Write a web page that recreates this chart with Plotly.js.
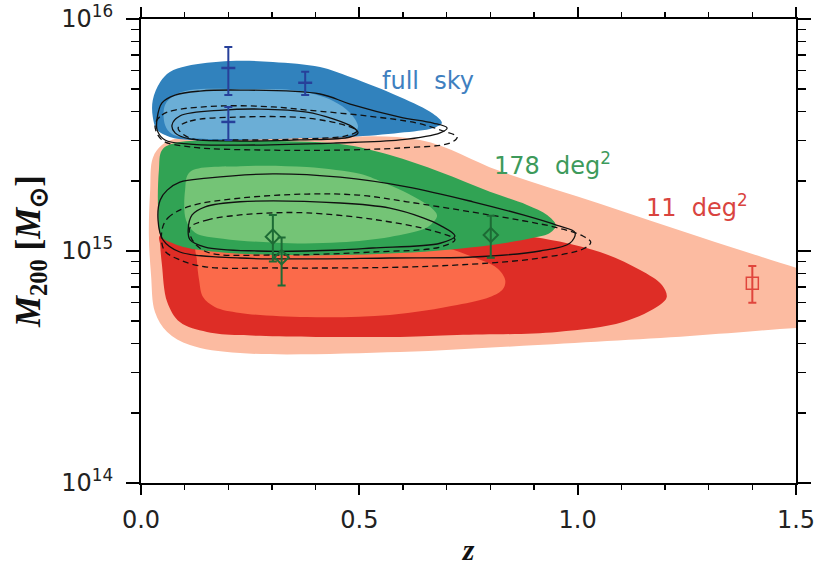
<!DOCTYPE html>
<html>
<head>
<meta charset="utf-8">
<script src="https://cdn.plot.ly/plotly-3.0.1.min.js"></script>
<style>
  html, body { margin: 0; padding: 0; background: #fff; }
  #chart { width: 829px; height: 566px; }
</style>
</head>
<body>
<div id="chart"></div>
<script>
// Masses are listed in units of 1e15 M_sun; redshift z is dimensionless.
const MASS_UNIT = 1e15;

// ---- 11 deg^2 survey: three nested confidence regions ----
const s11OuterZ = [0.078, 0.364, 0.639, 0.822, 1.051, 1.280, 1.509, 1.601, 1.601, 1.502, 1.257, 0.875, 0.593, 0.227, 0.112, 0.060, 0.032, 0.023, 0.018, 0.021, 0.027, 0.048];
const s11OuterM = [3.04, 3.07, 3.01, 2.21, 1.60, 1.15, 0.836, 0.743, 0.475, 0.466, 0.430, 0.390, 0.367, 0.363, 0.393, 0.448, 0.546, 0.788, 1.17, 1.83, 2.52, 2.86];

const s11MidZ = [0.044, 0.364, 0.708, 0.898, 1.051, 1.143, 1.193, 1.204, 1.188, 1.104, 0.953, 0.724, 0.593, 0.227, 0.151, 0.089, 0.060, 0.048, 0.044];
const s11MidM = [1.17, 1.21, 1.21, 1.15, 0.990, 0.828, 0.714, 0.633, 0.585, 0.494, 0.448, 0.434, 0.426, 0.434, 0.448, 0.494, 0.603, 0.871, 1.06];

const s11InnerZ = [0.128, 0.364, 0.685, 0.760, 0.815, 0.834, 0.829, 0.799, 0.724, 0.570, 0.380, 0.227, 0.169, 0.142, 0.133, 0.128];
const s11InnerM = [1.06, 1.06, 1.04, 0.942, 0.845, 0.750, 0.686, 0.633, 0.585, 0.530, 0.519, 0.541, 0.574, 0.633, 0.750, 0.915];

// ---- 178 deg^2 survey ----
const s178OuterZ = [0.048, 0.078, 0.250, 0.456, 0.570, 0.685, 0.799, 0.884, 0.930, 0.950, 0.937, 0.898, 0.799, 0.593, 0.302, 0.135, 0.078, 0.046, 0.039, 0.041];
const s178OuterM = [2.72, 2.92, 2.98, 2.89, 2.59, 2.19, 1.80, 1.58, 1.43, 1.29, 1.20, 1.14, 1.06, 0.980, 0.961, 1.01, 1.07, 1.16, 1.53, 2.23];

const s178InnerZ = [0.112, 0.227, 0.380, 0.501, 0.531, 0.609, 0.662, 0.678, 0.662, 0.646, 0.570, 0.456, 0.341, 0.188, 0.124, 0.103, 0.101];
const s178InnerM = [2.19, 2.32, 2.30, 2.15, 2.06, 1.78, 1.55, 1.42, 1.29, 1.24, 1.15, 1.09, 1.08, 1.13, 1.20, 1.36, 1.83];

// ---- full-sky survey ----
const skyOuterZ = [0.027, 0.044, 0.066, 0.105, 0.204, 0.302, 0.410, 0.479, 0.593, 0.669, 0.689, 0.669, 0.593, 0.479, 0.364, 0.227, 0.112, 0.066, 0.037, 0.027];
const skyOuterM = [4.48, 5.35, 5.91, 6.27, 6.59, 6.53, 6.21, 5.62, 4.61, 3.90, 3.56, 3.39, 3.23, 3.10, 3.07, 3.01, 3.01, 3.10, 3.32, 3.78];

const skyInnerZ = [0.055, 0.078, 0.112, 0.227, 0.364, 0.440, 0.479, 0.497, 0.483, 0.364, 0.227, 0.112, 0.071, 0.055];
const skyInnerM = [4.26, 4.70, 4.94, 4.99, 4.89, 4.43, 3.93, 3.42, 3.19, 3.07, 3.04, 3.07, 3.19, 3.49];

// ---- comparison contours (black): solid and dashed, two levels each ----
const skySolidOuterZ = [0.037, 0.048, 0.078, 0.135, 0.227, 0.410, 0.479, 0.593, 0.669, 0.701, 0.685, 0.593, 0.440, 0.227, 0.112, 0.055, 0.037];
const skySolidOuterM = [3.74, 4.35, 4.70, 4.89, 4.94, 4.75, 4.30, 3.78, 3.56, 3.39, 3.23, 3.01, 2.92, 2.86, 2.89, 3.01, 3.32];
const skySolidInnerZ = [0.071, 0.089, 0.188, 0.273, 0.380, 0.440, 0.485, 0.497, 0.479, 0.364, 0.227, 0.112, 0.078];
const skySolidInnerM = [3.49, 3.82, 4.05, 4.09, 3.97, 3.71, 3.42, 3.23, 3.10, 3.01, 2.98, 3.04, 3.23];
const skyDashOuterZ = [0.032, 0.048, 0.078, 0.188, 0.302, 0.380, 0.518, 0.632, 0.692, 0.724, 0.708, 0.593, 0.440, 0.302, 0.112, 0.048];
const skyDashOuterM = [3.49, 3.86, 4.05, 4.22, 4.18, 4.05, 3.82, 3.56, 3.29, 3.10, 2.92, 2.78, 2.72, 2.72, 2.81, 3.01];
const skyDashInnerZ = [0.085, 0.112, 0.227, 0.380, 0.472, 0.495, 0.467, 0.364, 0.227, 0.112];
const skyDashInnerM = [3.39, 3.63, 3.78, 3.74, 3.46, 3.29, 3.13, 3.04, 3.01, 3.07];

const s178SolidOuterZ = [0.044, 0.060, 0.089, 0.151, 0.302, 0.456, 0.609, 0.760, 0.875, 0.953, 0.994, 0.982, 0.914, 0.760, 0.570, 0.364, 0.227, 0.089, 0.050, 0.039];
const s178SolidOuterM = [1.66, 1.83, 1.98, 2.06, 2.15, 2.08, 1.89, 1.63, 1.43, 1.29, 1.20, 1.08, 1.00, 0.942, 0.933, 0.924, 0.933, 0.990, 1.12, 1.36];
const s178SolidInnerZ = [0.108, 0.117, 0.147, 0.227, 0.456, 0.570, 0.646, 0.685, 0.719, 0.685, 0.531, 0.456, 0.266, 0.147, 0.112];
const s178SolidInnerM = [1.23, 1.43, 1.55, 1.63, 1.61, 1.53, 1.39, 1.29, 1.16, 1.08, 1.03, 1.01, 1.00, 1.04, 1.12];
const s178DashOuterZ = [0.048, 0.062, 0.112, 0.227, 0.380, 0.501, 0.609, 0.760, 0.875, 0.953, 1.012, 1.030, 1.012, 0.914, 0.799, 0.609, 0.302, 0.151, 0.089, 0.053];
const s178DashOuterM = [1.23, 1.39, 1.56, 1.69, 1.76, 1.74, 1.63, 1.47, 1.35, 1.26, 1.16, 1.09, 1.02, 0.933, 0.888, 0.853, 0.845, 0.853, 0.915, 1.01];
const s178DashInnerZ = [0.112, 0.151, 0.227, 0.302, 0.380, 0.531, 0.669, 0.719, 0.685, 0.531, 0.302, 0.151, 0.117];
const s178DashInnerM = [1.26, 1.36, 1.43, 1.46, 1.46, 1.37, 1.22, 1.12, 1.04, 0.990, 0.961, 0.990, 1.12];

// ---- individual clusters with error bars ----
const skyPtsZ = [0.200, 0.200, 0.376];
const skyPtsM = [6.15, 3.60, 5.31];
const skyPtsHi = [7.57, 4.18, 5.93];
const skyPtsLo = [4.70, 3.01, 4.70];

const s178PtsZ = [0.302, 0.322, 0.801];
const s178PtsM = [1.153, 0.940, 1.172];
const s178PtsHi = [1.429, 1.143, 1.419];
const s178PtsLo = [0.900, 0.710, 0.936];

const s11PtsZ = [1.40];
const s11PtsM = [0.726];
const s11PtsHi = [0.861];
const s11PtsLo = [0.599];

// Tick positions and labels
const xMajorTicks = [0.0, 0.5, 1.0, 1.5];
const yMajorTicks = [1e14, 1e15, 1e16];
const yMajorText = ['10<sup>14</sup>', '10<sup>15</sup>', '10<sup>16</sup>'];
const yMinorMantissa = [2, 3, 4, 5, 6, 7, 8, 9];
const yDecades = [1e14, 1e15];

const toMass = arr => arr.map(v => v * MASS_UNIT);
// Repeat the first vertex so the spline is drawn as a smooth closed curve
const closeLoop = arr => arr.concat([arr[0]]);

function region(z, m, color) {
  return {
    type: 'scatter', mode: 'lines', hoverinfo: 'skip',
    x: closeLoop(z), y: closeLoop(toMass(m)),
    fill: 'toself', fillcolor: color,
    line: { width: 0, shape: 'spline', smoothing: 1, color: color }
  };
}

function contour(z, m, dash) {
  return {
    type: 'scatter', mode: 'lines', hoverinfo: 'skip',
    x: closeLoop(z), y: closeLoop(toMass(m)),
    line: { color: '#111', width: 1.3, dash: dash, shape: 'spline', smoothing: 1 }
  };
}

function clusters(z, m, hi, lo, color, symbol, size, lw) {
  return {
    type: 'scatter', mode: 'markers', hoverinfo: 'skip',
    x: z, y: toMass(m),
    error_y: {
      type: 'data', symmetric: false,
      array: hi.map((h, i) => (h - m[i]) * MASS_UNIT),
      arrayminus: lo.map((l, i) => (m[i] - l) * MASS_UNIT),
      color: color, thickness: 2, width: 4
    },
    marker: { symbol: symbol, size: size, color: color, line: { color: color, width: lw } }
  };
}

const DASH = '6px,4px';

const traces = [
  region(s11OuterZ, s11OuterM, '#fcbba1'),
  region(s11MidZ, s11MidM, '#de2d26'),
  region(s11InnerZ, s11InnerM, '#fb6a4a'),
  region(s178OuterZ, s178OuterM, '#31a354'),
  region(s178InnerZ, s178InnerM, '#74c476'),
  region(skyOuterZ, skyOuterM, '#3182bd'),
  region(skyInnerZ, skyInnerM, '#6baed6'),

  contour(s178SolidOuterZ, s178SolidOuterM, 'solid'),
  contour(s178SolidInnerZ, s178SolidInnerM, 'solid'),
  contour(s178DashOuterZ, s178DashOuterM, DASH),
  contour(s178DashInnerZ, s178DashInnerM, DASH),
  contour(skySolidOuterZ, skySolidOuterM, 'solid'),
  contour(skySolidInnerZ, skySolidInnerM, 'solid'),
  contour(skyDashOuterZ, skyDashOuterM, DASH),
  contour(skyDashInnerZ, skyDashInnerM, DASH),

  clusters(skyPtsZ, skyPtsM, skyPtsHi, skyPtsLo, '#27409a', 'line-ew-open', 10, 2.5),
  clusters(s178PtsZ, s178PtsM, s178PtsHi, s178PtsLo, '#1d6b35', 'diamond-open', 11, 2),
  clusters(s11PtsZ, s11PtsM, s11PtsHi, s11PtsLo, '#e0453c', 'square-open', 12, 1.5)
];

const yMinorTicks = [];
yDecades.forEach(d => yMinorMantissa.forEach(k => yMinorTicks.push(k * d)));

const tickFont = { family: 'DejaVu Sans', size: 24, color: '#222' };

const layout = {
  width: 829, height: 566,
  margin: { l: 141, r: 33, t: 19, b: 83 },
  paper_bgcolor: '#fff', plot_bgcolor: '#fff',
  showlegend: false,
  xaxis: {
    range: [0, 1.5],
    tickvals: xMajorTicks, tickformat: '.1f',
    ticks: 'outside', ticklen: 10, tickwidth: 2, tickcolor: '#000',
    showline: true, linewidth: 2, linecolor: '#000', mirror: 'ticks',
    showgrid: false, zeroline: false,
    tickfont: tickFont, ticklabelstandoff: 4,
    minor: { dtick: 0.1, ticks: 'outside', ticklen: 5, tickwidth: 1.5, tickcolor: '#000', showgrid: false },
    title: { text: '<b><i>z</i></b>', font: { family: 'Liberation Serif', size: 30, color: '#111' }, standoff: 6 }
  },
  yaxis: {
    type: 'log', range: [14, 16],
    tickvals: yMajorTicks, ticktext: yMajorText,
    ticks: 'outside', ticklen: 13, tickwidth: 2, tickcolor: '#000',
    showline: true, linewidth: 2, linecolor: '#000', mirror: 'ticks',
    showgrid: false, zeroline: false,
    tickfont: tickFont, ticklabelstandoff: 8,
    minor: { tickvals: yMinorTicks, ticks: 'outside', ticklen: 8, tickwidth: 1.5, tickcolor: '#000', showgrid: false },
    title: { text: '<b><i>M</i><sub>200</sub> [<i>M</i><sub>\u2299</sub>]</b>', font: { family: 'Liberation Serif', size: 35, color: '#111' }, standoff: 10 }
  },
  annotations: [
    { xref: 'paper', yref: 'paper', x: 0.438, y: 0.866, text: 'full\u00a0\u00a0sky', showarrow: false,
      font: { family: 'DejaVu Sans', size: 24, color: '#3f80bf' }, xanchor: 'center', yanchor: 'middle' },
    { xref: 'paper', yref: 'paper', x: 0.629, y: 0.688, text: '178\u00a0\u00a0deg<sup>2</sup>', showarrow: false,
      font: { family: 'DejaVu Sans', size: 24, color: '#3d9a5b' }, xanchor: 'center', yanchor: 'middle' },
    { xref: 'paper', yref: 'paper', x: 0.849, y: 0.597, text: '11\u00a0\u00a0deg<sup>2</sup>', showarrow: false,
      font: { family: 'DejaVu Sans', size: 24, color: '#d9443f' }, xanchor: 'center', yanchor: 'middle' }
  ]
};

Plotly.newPlot('chart', traces, layout, { staticPlot: true, displayModeBar: false });
</script>
</body>
</html>
